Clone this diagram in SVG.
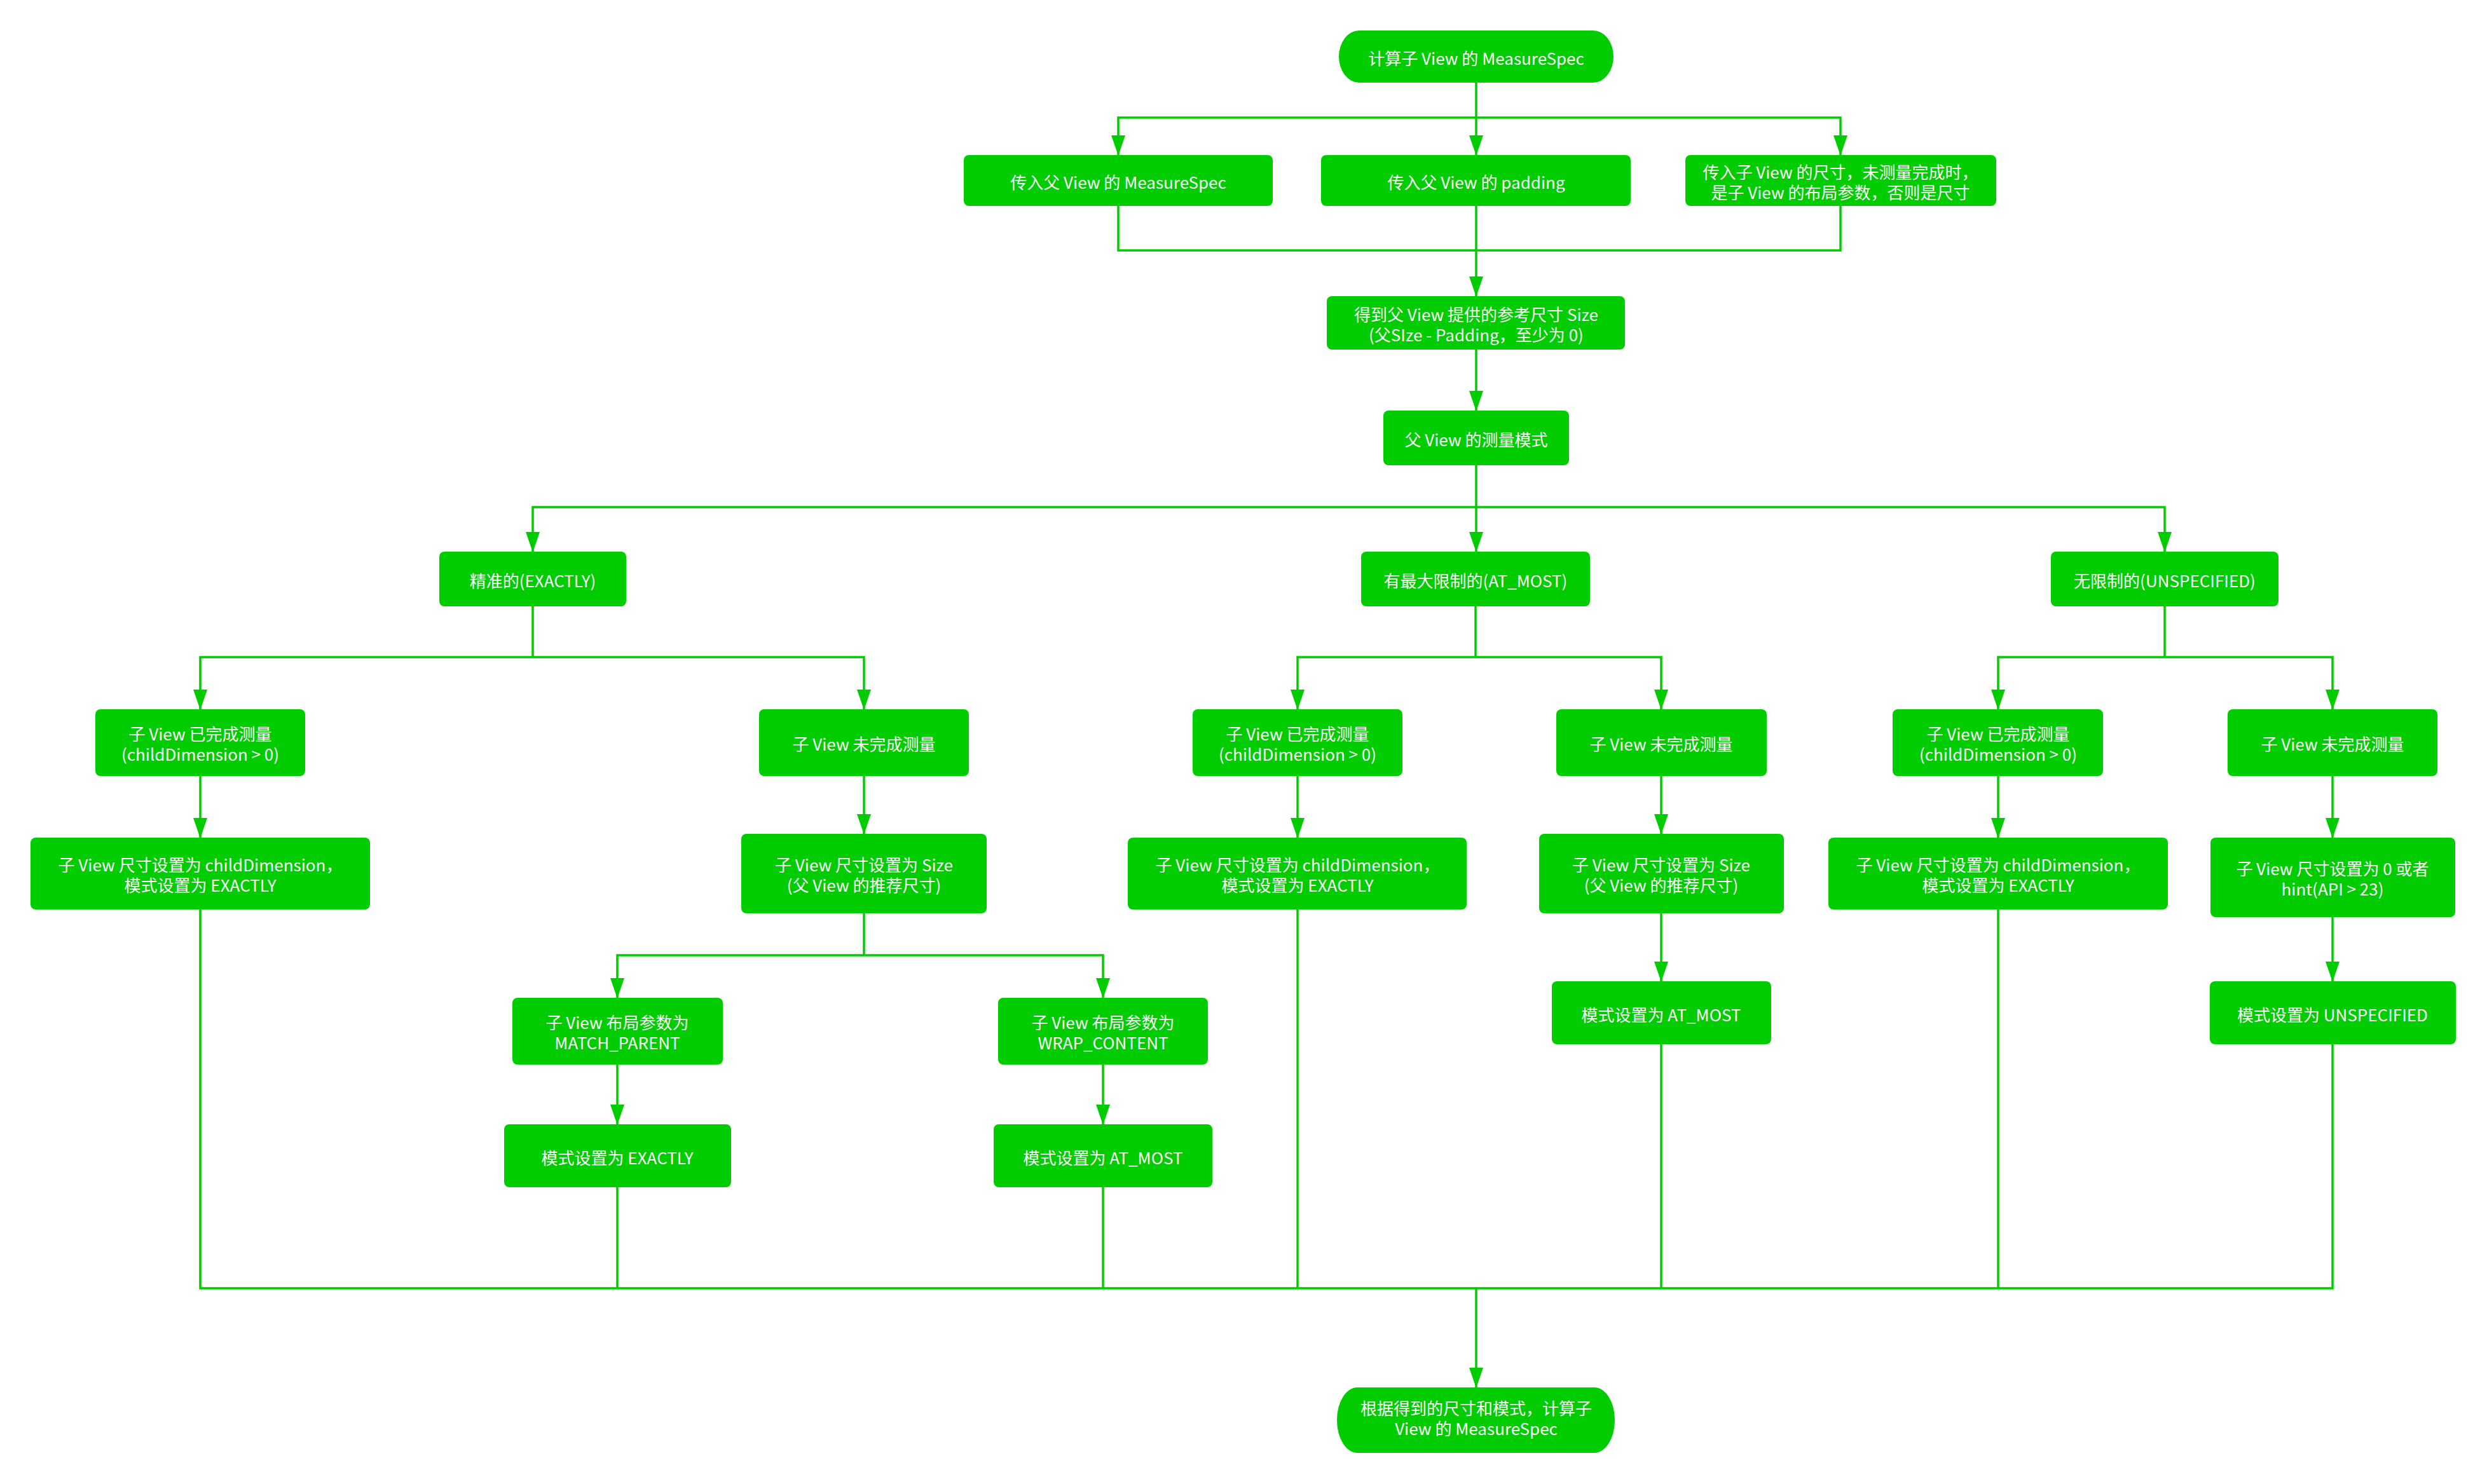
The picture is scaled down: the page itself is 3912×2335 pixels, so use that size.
<svg xmlns="http://www.w3.org/2000/svg" width="3912" height="2335" viewBox="0 0 3912 2335">
<style>
.n rect{fill:#00cc00}
.n text{fill:#ffffff;font-family:"Noto Sans CJK SC","Noto Sans",sans-serif;font-size:26px;text-anchor:middle}
.c path{fill:none;stroke:#00cc00;stroke-width:3.5}
</style>
<defs>
<marker id="ah" markerUnits="userSpaceOnUse" markerWidth="32" markerHeight="22" viewBox="0 0 32 22" refX="31" refY="11" orient="auto">
<path d="M0,0 L32,11 L0,22 Z" fill="#00cc00"/>
</marker>
</defs>
<rect width="3912" height="2335" fill="#ffffff"/>
<g class="c">
<path d="M2322,130 V185"/>
<path d="M2322,185 H1759 V244" marker-end="url(#ah)"/>
<path d="M2322,185 V244" marker-end="url(#ah)"/>
<path d="M2322,185 H2895 V244" marker-end="url(#ah)"/>
<path d="M1759,324 V394 H2895 V324"/>
<path d="M2322,324 V466" marker-end="url(#ah)"/>
<path d="M2322,550 V646" marker-end="url(#ah)"/>
<path d="M2322,732 V798"/>
<path d="M2322,798 H838 V868" marker-end="url(#ah)"/>
<path d="M2322,798 V868" marker-end="url(#ah)"/>
<path d="M2322,798 H3405 V868" marker-end="url(#ah)"/>
<path d="M838,954 V1034"/>
<path d="M838,1034 H315 V1116" marker-end="url(#ah)"/>
<path d="M838,1034 H1359 V1116" marker-end="url(#ah)"/>
<path d="M2321,954 V1034"/>
<path d="M2321,1034 H2041 V1116" marker-end="url(#ah)"/>
<path d="M2321,1034 H2613 V1116" marker-end="url(#ah)"/>
<path d="M3405,954 V1034"/>
<path d="M3405,1034 H3143 V1116" marker-end="url(#ah)"/>
<path d="M3405,1034 H3669 V1116" marker-end="url(#ah)"/>
<path d="M315,1221 V1318" marker-end="url(#ah)"/>
<path d="M1359,1221 V1312" marker-end="url(#ah)"/>
<path d="M2041,1221 V1318" marker-end="url(#ah)"/>
<path d="M2613,1221 V1312" marker-end="url(#ah)"/>
<path d="M3143,1221 V1318" marker-end="url(#ah)"/>
<path d="M3669,1221 V1318" marker-end="url(#ah)"/>
<path d="M1359,1437 V1503"/>
<path d="M1359,1503 H971 V1570" marker-end="url(#ah)"/>
<path d="M1359,1503 H1735 V1570" marker-end="url(#ah)"/>
<path d="M971,1675 V1769" marker-end="url(#ah)"/>
<path d="M1735,1675 V1769" marker-end="url(#ah)"/>
<path d="M2613,1437 V1544" marker-end="url(#ah)"/>
<path d="M3669,1443 V1544" marker-end="url(#ah)"/>
<path d="M315,1431 V2027 H3669 V1643"/>
<path d="M971,1868 V2027"/>
<path d="M1735,1868 V2027"/>
<path d="M2041,1431 V2027"/>
<path d="M2613,1643 V2027"/>
<path d="M3143,1431 V2027"/>
<path d="M2322,2027 V2183" marker-end="url(#ah)"/>
</g>
<g id="n-start" class="n"><rect x="2106" y="48" width="432" height="82" rx="32" ry="41"/><text x="2322" y="102">计算子 View 的 MeasureSpec</text></g>
<g id="n-in-spec" class="n"><rect x="1516" y="244" width="486" height="80" rx="8"/><text x="1759" y="297">传入父 View 的 MeasureSpec</text></g>
<g id="n-in-padding" class="n"><rect x="2078" y="244" width="487" height="80" rx="8"/><text x="2322" y="297">传入父 View 的 padding</text></g>
<g id="n-in-child" class="n"><rect x="2651" y="244" width="489" height="80" rx="8"/><text x="2895" y="281">传入子 View 的尺寸，未测量完成时，</text><text x="2895" y="313">是子 View 的布局参数，否则是尺寸</text></g>
<g id="n-size" class="n"><rect x="2087" y="466" width="469" height="84" rx="8"/><text x="2322" y="505">得到父 View 提供的参考尺寸 Size</text><text x="2322" y="537">(父SIze - Padding，至少为 0)</text></g>
<g id="n-mode" class="n"><rect x="2176" y="646" width="292" height="86" rx="8"/><text x="2322" y="702">父 View 的测量模式</text></g>
<g id="n-exactly" class="n"><rect x="691" y="868" width="294" height="86" rx="8"/><text x="838" y="924">精准的(EXACTLY)</text></g>
<g id="n-atmost" class="n"><rect x="2141" y="868" width="360" height="86" rx="8"/><text x="2321" y="924">有最大限制的(AT_MOST)</text></g>
<g id="n-unspec" class="n"><rect x="3226" y="868" width="358" height="86" rx="8"/><text x="3405" y="924">无限制的(UNSPECIFIED)</text></g>
<g id="n-a1" class="n"><rect x="150" y="1116" width="330" height="105" rx="8"/><text x="315" y="1165">子 View 已完成测量</text><text x="315" y="1197">(childDimension &gt; 0)</text></g>
<g id="n-a2" class="n"><rect x="1194" y="1116" width="330" height="105" rx="8"/><text x="1359" y="1181">子 View 未完成测量</text></g>
<g id="n-b1" class="n"><rect x="1876" y="1116" width="330" height="105" rx="8"/><text x="2041" y="1165">子 View 已完成测量</text><text x="2041" y="1197">(childDimension &gt; 0)</text></g>
<g id="n-b2" class="n"><rect x="2448" y="1116" width="331" height="105" rx="8"/><text x="2613" y="1181">子 View 未完成测量</text></g>
<g id="n-c1" class="n"><rect x="2977" y="1116" width="331" height="105" rx="8"/><text x="3143" y="1165">子 View 已完成测量</text><text x="3143" y="1197">(childDimension &gt; 0)</text></g>
<g id="n-c2" class="n"><rect x="3504" y="1116" width="330" height="105" rx="8"/><text x="3669" y="1181">子 View 未完成测量</text></g>
<g id="n-a1b" class="n"><rect x="48" y="1318" width="534" height="113" rx="8"/><text x="315" y="1371">子 View 尺寸设置为 childDimension，</text><text x="315" y="1403">模式设置为 EXACTLY</text></g>
<g id="n-a2b" class="n"><rect x="1166" y="1312" width="386" height="125" rx="8"/><text x="1359" y="1371">子 View 尺寸设置为 Size</text><text x="1359" y="1403">(父 View 的推荐尺寸)</text></g>
<g id="n-b1b" class="n"><rect x="1774" y="1318" width="533" height="113" rx="8"/><text x="2041" y="1371">子 View 尺寸设置为 childDimension，</text><text x="2041" y="1403">模式设置为 EXACTLY</text></g>
<g id="n-b2b" class="n"><rect x="2421" y="1312" width="385" height="125" rx="8"/><text x="2613" y="1371">子 View 尺寸设置为 Size</text><text x="2613" y="1403">(父 View 的推荐尺寸)</text></g>
<g id="n-c1b" class="n"><rect x="2876" y="1318" width="534" height="113" rx="8"/><text x="3143" y="1371">子 View 尺寸设置为 childDimension，</text><text x="3143" y="1403">模式设置为 EXACTLY</text></g>
<g id="n-c2b" class="n"><rect x="3477" y="1318" width="385" height="125" rx="8"/><text x="3669" y="1377">子 View 尺寸设置为 0 或者</text><text x="3669" y="1409">hint(API &gt; 23)</text></g>
<g id="n-match" class="n"><rect x="806" y="1570" width="331" height="105" rx="8"/><text x="971" y="1619">子 View 布局参数为</text><text x="971" y="1651">MATCH_PARENT</text></g>
<g id="n-wrap" class="n"><rect x="1570" y="1570" width="330" height="105" rx="8"/><text x="1735" y="1619">子 View 布局参数为</text><text x="1735" y="1651">WRAP_CONTENT</text></g>
<g id="n-b2c" class="n"><rect x="2441" y="1544" width="345" height="99" rx="8"/><text x="2613" y="1607">模式设置为 AT_MOST</text></g>
<g id="n-c2c" class="n"><rect x="3476" y="1544" width="387" height="99" rx="8"/><text x="3669" y="1607">模式设置为 UNSPECIFIED</text></g>
<g id="n-ex-set" class="n"><rect x="793" y="1769" width="357" height="99" rx="8"/><text x="971" y="1832">模式设置为 EXACTLY</text></g>
<g id="n-at-set" class="n"><rect x="1563" y="1769" width="344" height="99" rx="8"/><text x="1735" y="1832">模式设置为 AT_MOST</text></g>
<g id="n-end" class="n"><rect x="2103" y="2183" width="437" height="103" rx="32" ry="51"/><text x="2322" y="2226">根据得到的尺寸和模式，计算子</text><text x="2322" y="2258">View 的 MeasureSpec</text></g>
</svg>
